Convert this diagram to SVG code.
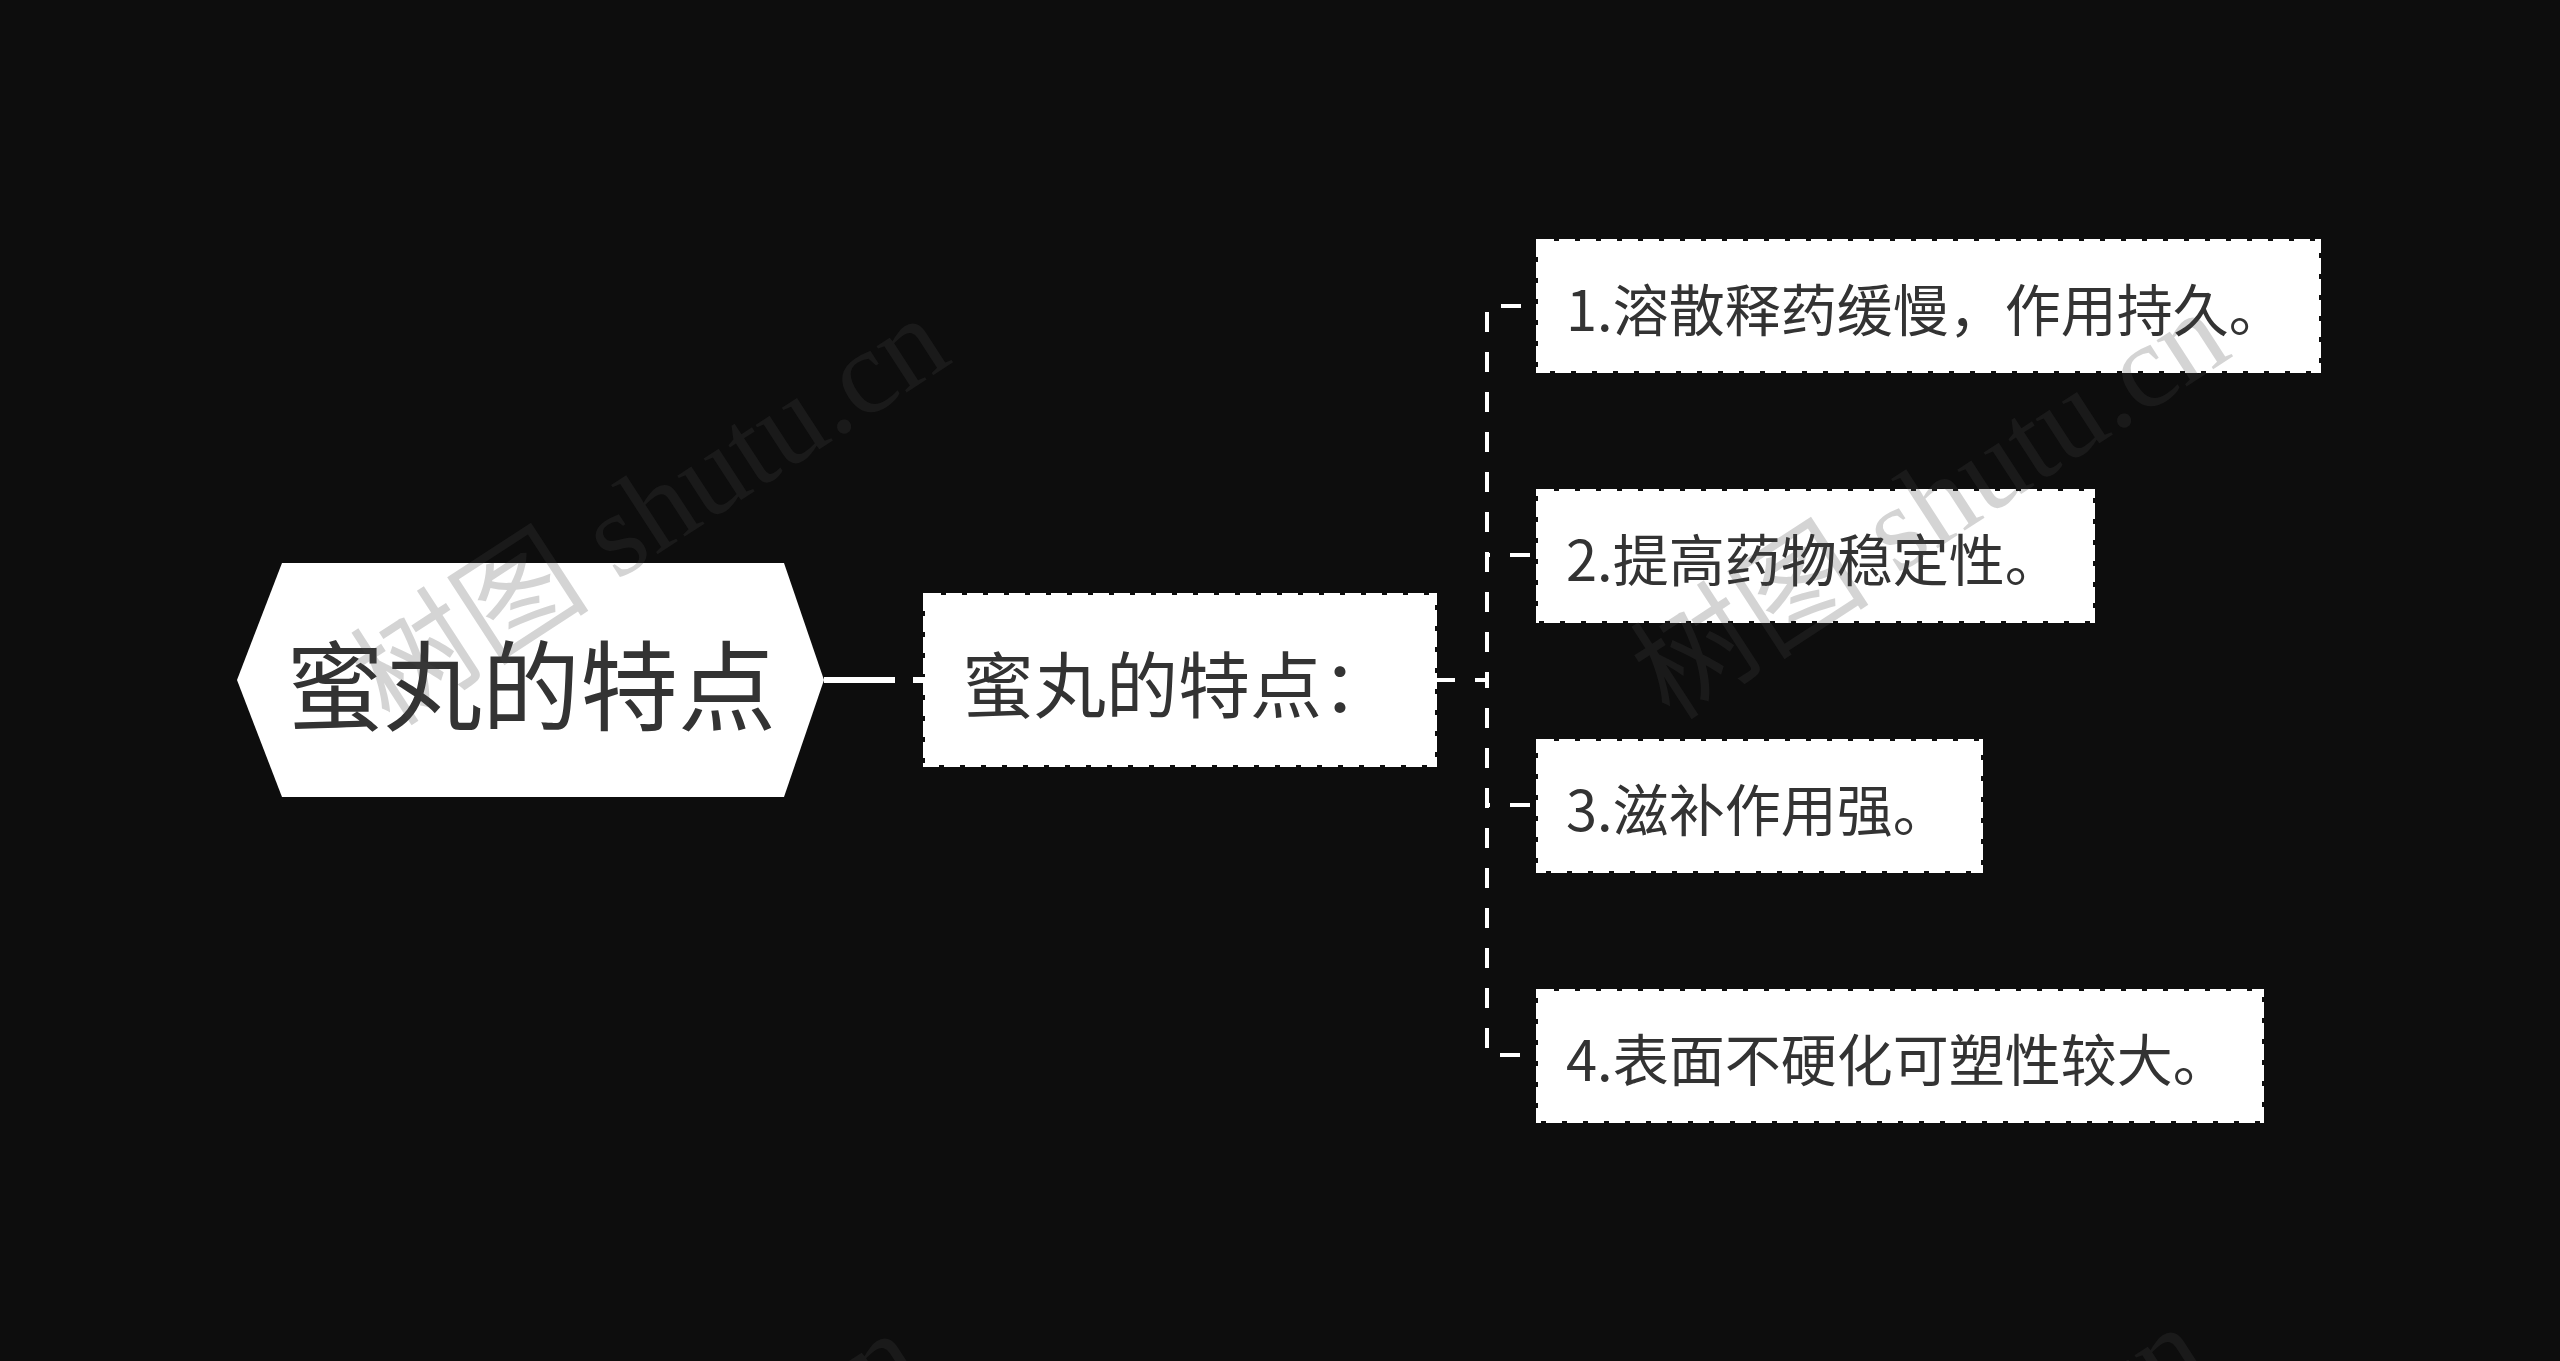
<svg xmlns="http://www.w3.org/2000/svg" width="2560" height="1361" viewBox="0 0 2560 1361">
<style>
.bg{fill:#0d0d0d}
.node{fill:#ffffff;stroke:#ffffff;stroke-width:4;stroke-dasharray:16 5}
.hex{fill:#ffffff}
.t{font-family:"Noto Sans CJK SC","Noto Sans",sans-serif;fill:#333333;dominant-baseline:central}
.conn{fill:none;stroke:#ffffff;stroke-width:4;stroke-dasharray:20 20}
.wm{font-family:"Liberation Serif","Noto Sans CJK SC",serif;font-size:120px;fill:#464646;fill-opacity:0.23}
</style>
<rect class="bg" x="0" y="0" width="2560" height="1361"/>
<g id="connectors">
  <line x1="824" y1="680" x2="1000" y2="680" stroke="#ffffff" stroke-width="6" stroke-dasharray="71 18"/>
  <path class="conn" d="M1435,680 H1487 V306 H1538"/>
  <path class="conn" d="M1435,680 H1487 V555 H1538"/>
  <path class="conn" d="M1435,680 H1487 V805 H1538"/>
  <path class="conn" d="M1435,680 H1487 V1055 H1538"/>
</g>
<g id="root">
  <polygon class="hex" points="237,680 282,563 784,563 824,680 784,797 282,797"/>
  <text class="t" x="531" y="680" font-size="98" text-anchor="middle">蜜丸的特点</text>
</g>
<g id="middle">
  <rect class="node" x="925" y="595" width="510" height="170"/>
  <text class="t" x="962" y="680" font-size="72">蜜丸的特点：</text>
</g>
<g id="leaf1">
  <rect class="node" x="1538" y="241" width="781" height="130"/>
  <text class="t" x="1566" y="306" font-size="56">1.溶散释药缓慢，作用持久。</text>
</g>
<g id="leaf2">
  <rect class="node" x="1538" y="491" width="555" height="130"/>
  <text class="t" x="1566" y="556" font-size="56">2.提高药物稳定性。</text>
</g>
<g id="leaf3">
  <rect class="node" x="1538" y="741" width="443" height="130"/>
  <text class="t" x="1566" y="806" font-size="56">3.滋补作用强。</text>
</g>
<g id="leaf4">
  <rect class="node" x="1538" y="991" width="724" height="130"/>
  <text class="t" x="1566" y="1056" font-size="56">4.表面不硬化可塑性较大。</text>
</g>
<g id="watermarks">
  <text class="wm" transform="translate(390,728) rotate(-33)">树图 shutu.cn</text>
  <text class="wm" transform="translate(1670,722) rotate(-33)">树图 shutu.cn</text>
  <text class="wm" transform="translate(362,1743) rotate(-33)">树图 shutu.cn</text>
  <text class="wm" transform="translate(1648,1737) rotate(-33)">树图 shutu.cn</text>
</g>
</svg>
